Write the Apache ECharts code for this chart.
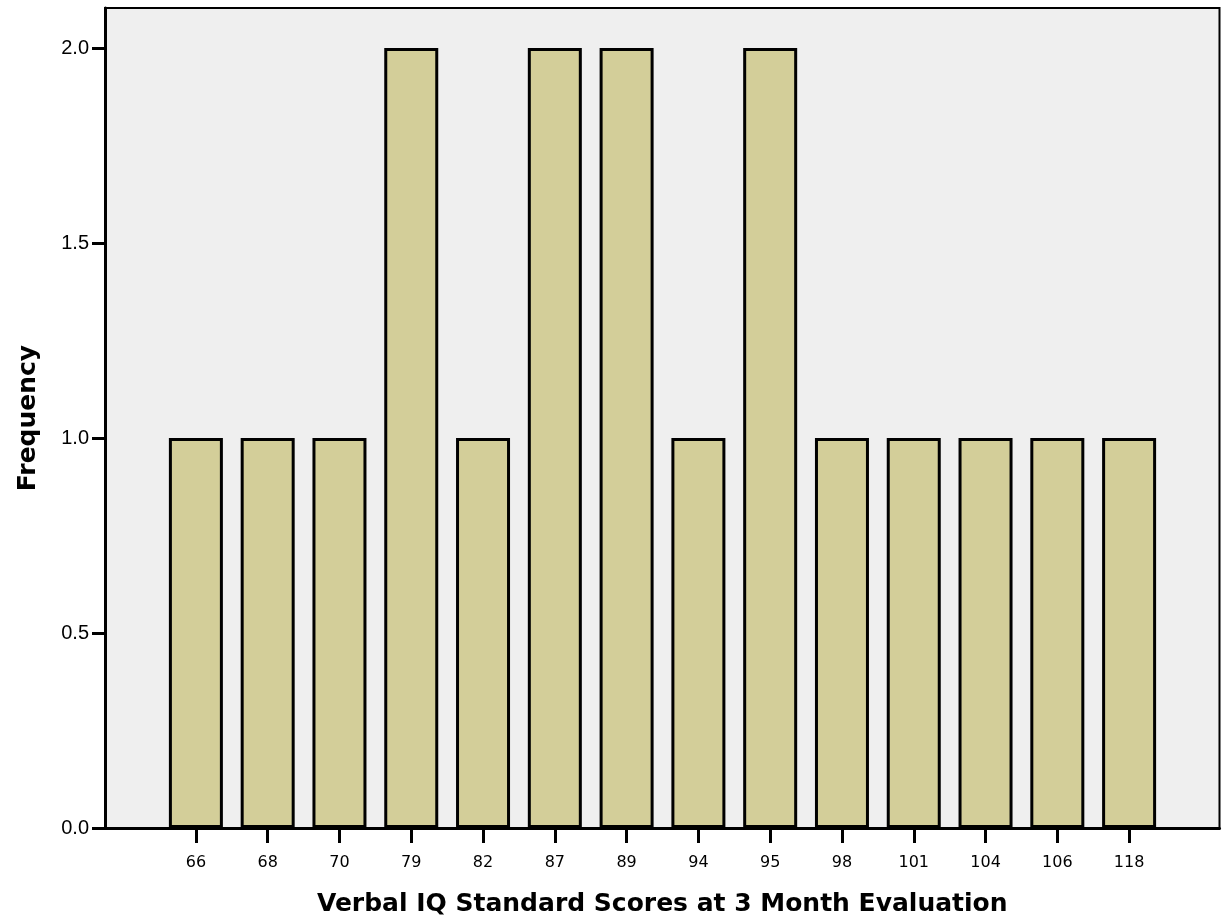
<!DOCTYPE html>
<html>
<head>
<meta charset="utf-8">
<script src="https://cdn.jsdelivr.net/npm/echarts@6/dist/echarts.min.js"></script>
<style>html,body{margin:0;padding:0;background:#fff}#c{width:1228px;height:923px}</style>
</head>
<body>
<div id="c"></div>
<script>
const categories = ['66','68','70','79','82','87','89','94','95','98','101','104','106','118'];
const frequency = [1,1,1,2,1,2,2,1,2,1,1,1,1,1];
const yTicks = [0, 0.5, 1.0, 1.5, 2.0];

const chart = echarts.init(document.getElementById('c'), null, {renderer:'canvas'});
const arial = '"Liberation Sans", Arial, sans-serif';
const wide = '"DejaVu Sans", sans-serif';
chart.setOption({
  animation: false,
  backgroundColor: '#ffffff',
  grid: [
    {left: 105, right: 8.5, top: 8, bottom: 95, show: true, backgroundColor: '#efefef', borderColor: '#000', borderWidth: 2, z: 0,
     containLabel: false, outerBoundsMode: 'none'},
    {left: 160, right: 63, top: 48, bottom: 95, containLabel: false, outerBoundsMode: 'none'}
  ],
  xAxis: [
    {gridIndex: 0, type: 'value', min: 0, max: 1,
     axisLine: {show: true, onZero: false, lineStyle: {color: '#000', width: 3}},
     axisTick: {show: false}, axisLabel: {show: false}, splitLine: {show: false},
     name: 'Verbal IQ Standard Scores at 3 Month Evaluation', nameLocation: 'middle', nameGap: 64,
     nameTextStyle: {fontFamily: wide, fontWeight: 'bold', fontSize: 25, color: '#000'}},
    {gridIndex: 1, type: 'category', data: categories,
     axisLine: {show: false},
     axisTick: {show: true, alignWithLabel: true, length: 15, lineStyle: {color: '#000', width: 3}},
     axisLabel: {show: true, margin: 27, fontFamily: wide, fontSize: 16, color: '#000'}}
  ],
  yAxis: [
    {gridIndex: 0, type: 'value', min: 0, max: 1,
     axisLine: {show: true, onZero: false, lineStyle: {color: '#000', width: 3}},
     axisTick: {show: false}, axisLabel: {show: false}, splitLine: {show: false},
     name: 'Frequency', nameLocation: 'middle', nameGap: 64, nameRotate: 90,
     nameTextStyle: {fontFamily: wide, fontWeight: 'bold', fontSize: 25, color: '#000'}},
    {gridIndex: 1, type: 'value', min: yTicks[0], max: yTicks[yTicks.length-1], interval: 0.5, offset: 55,
     axisLine: {show: false},
     axisTick: {show: true, length: 13, lineStyle: {color: '#000', width: 3}},
     axisLabel: {show: true, margin: 16, fontFamily: arial, fontSize: 20, color: '#000',
                 formatter: v => v.toFixed(1)},
     splitLine: {show: false}}
  ],
  series: [{
    type: 'bar', xAxisIndex: 1, yAxisIndex: 1, data: frequency, barWidth: 54,
    itemStyle: {color: '#d3ce99', borderColor: '#000', borderWidth: 3},
    z: 2
  }]
});
</script>
</body>
</html>
